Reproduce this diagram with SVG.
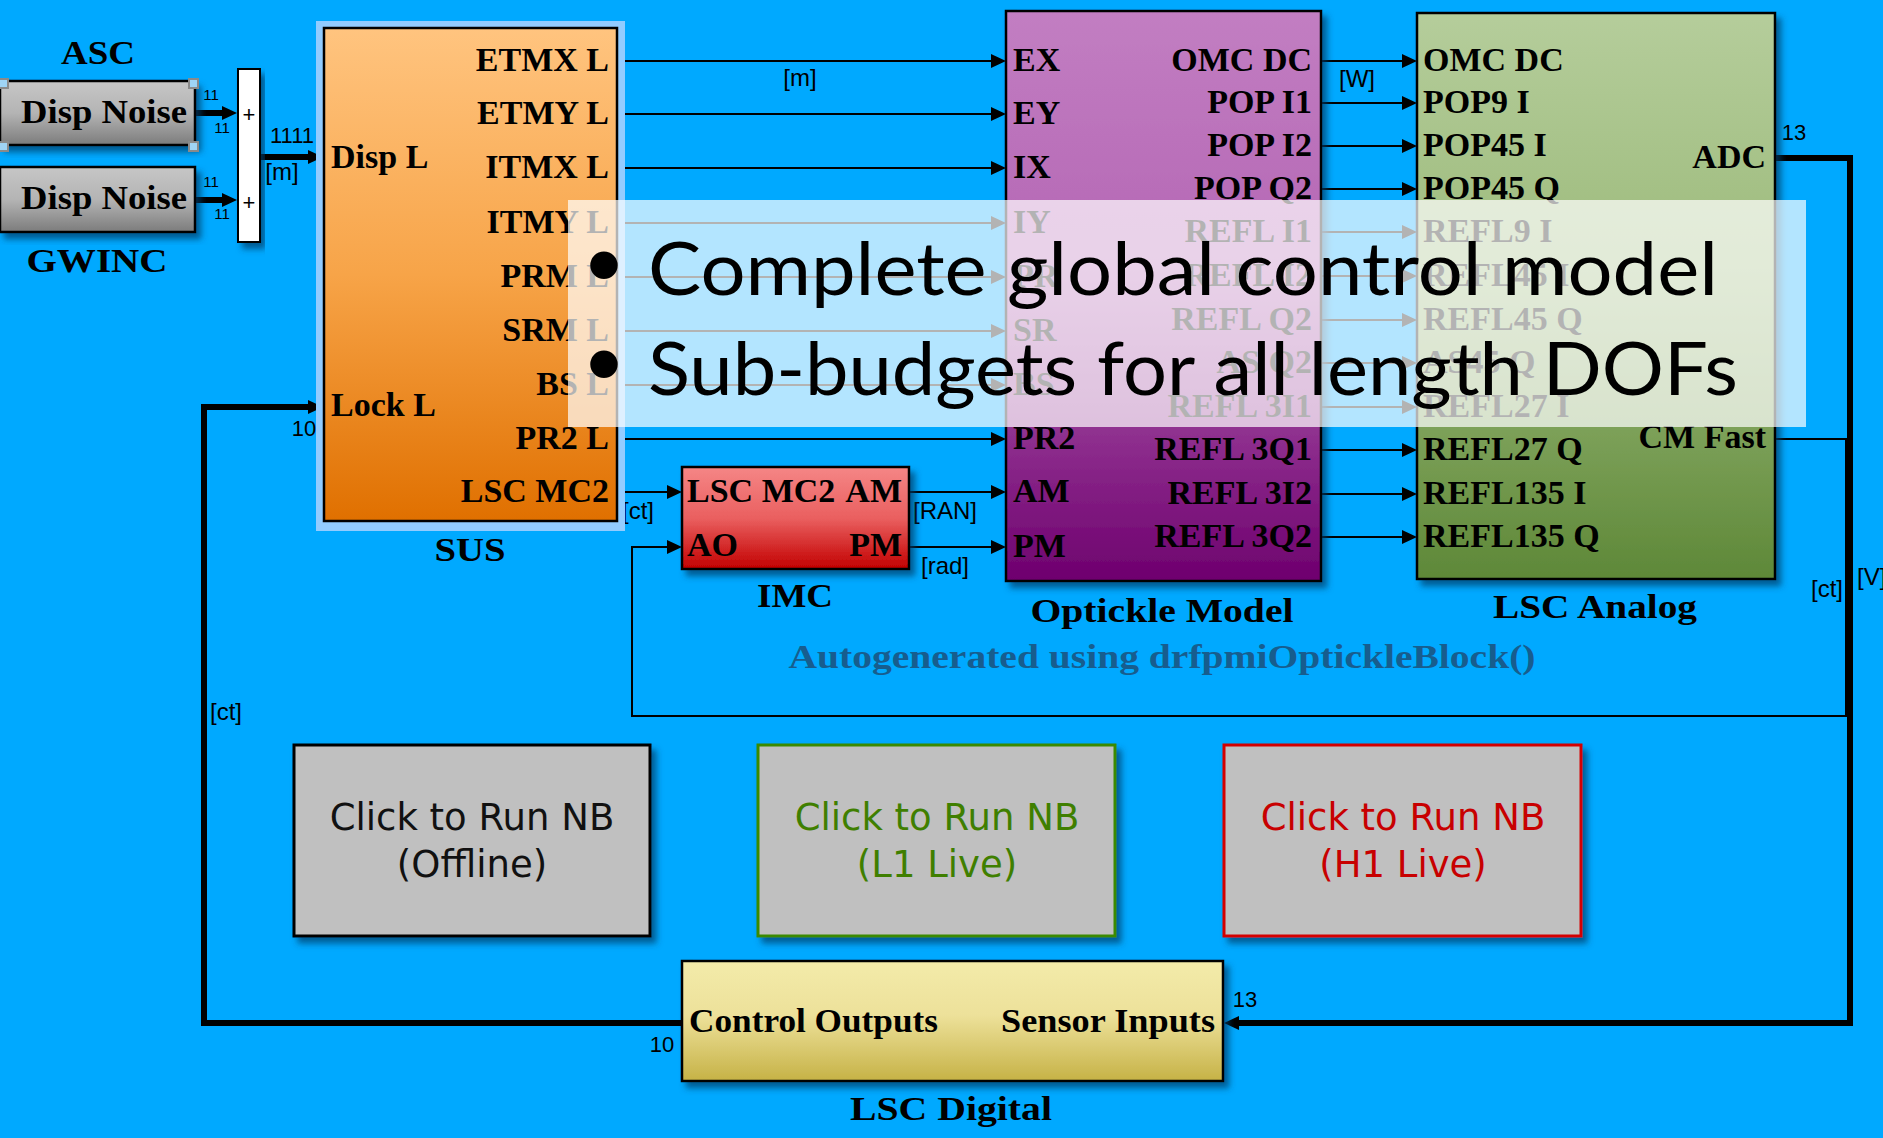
<svg xmlns="http://www.w3.org/2000/svg" width="1883" height="1138" viewBox="0 0 1883 1138">
<defs>
<linearGradient id="gSUS" x1="0" y1="0" x2="0" y2="1"><stop offset="0" stop-color="#FFC47F"/><stop offset="0.5" stop-color="#F7A448"/><stop offset="1" stop-color="#E07000"/></linearGradient>
<linearGradient id="gOpt" x1="0" y1="0" x2="0" y2="1"><stop offset="0" stop-color="#C27EC2"/><stop offset="0.45" stop-color="#B466B4"/><stop offset="1" stop-color="#6E006E"/></linearGradient>
<linearGradient id="gLSCA" x1="0" y1="0" x2="0" y2="1"><stop offset="0" stop-color="#B5CD9B"/><stop offset="0.45" stop-color="#9DBB7C"/><stop offset="1" stop-color="#5E8838"/></linearGradient>
<linearGradient id="gIMC" x1="0" y1="0" x2="0" y2="1"><stop offset="0" stop-color="#F58686"/><stop offset="0.5" stop-color="#EA6060"/><stop offset="1" stop-color="#C20000"/></linearGradient>
<linearGradient id="gLSCD" x1="0" y1="0" x2="0" y2="1"><stop offset="0" stop-color="#F3EBAA"/><stop offset="0.45" stop-color="#EDE19A"/><stop offset="1" stop-color="#C6B246"/></linearGradient>
<linearGradient id="gDisp" x1="0" y1="0" x2="0" y2="1"><stop offset="0" stop-color="#C6C6C6"/><stop offset="0.5" stop-color="#B4B4B4"/><stop offset="1" stop-color="#7C7C7C"/></linearGradient>
<filter id="sh" x="-10%" y="-10%" width="130%" height="130%"><feDropShadow dx="5" dy="6" stdDeviation="3" flood-color="#003a66" flood-opacity="0.7"/></filter>
<marker id="arr" viewBox="0 -7 15 14" refX="0" refY="0" markerWidth="15" markerHeight="14" markerUnits="userSpaceOnUse" orient="auto"><path d="M0,-7 L15,0 L0,7 z" fill="#000"/></marker>
<style>
.lbl{font-family:"Liberation Serif","Times New Roman",serif;font-weight:bold;font-size:34px;fill:#000}
.end{text-anchor:end}
.mid{text-anchor:middle}
.sm{font-family:"Liberation Sans",Arial,sans-serif;font-size:24px;fill:#000}
.num{font-family:"Liberation Sans",Arial,sans-serif;font-size:22px;fill:#000}
.tiny{font-family:"Liberation Sans",Arial,sans-serif;font-size:15px;fill:#000;text-anchor:middle}
.wire{stroke:#000;stroke-width:2;fill:none}
.bus{stroke:#000;stroke-width:6;fill:none}
.blk{stroke:#000;stroke-width:2.5}
.btn{font-family:"DejaVu Sans",Verdana,sans-serif;font-size:37px;text-anchor:middle}
.bul{font-family:Lato,"Open Sans",sans-serif;font-size:74px;fill:#000}
</style>
</defs>
<rect x="0" y="0" width="1883" height="1138" fill="#00A9FF"/>

<g id="connectors">
<path class="bus" d="M195,113 H222" marker-end="url(#arr)"/>
<path class="bus" d="M195,200 H222" marker-end="url(#arr)"/>
<path class="bus" d="M260,157 H308" marker-end="url(#arr)"/>
<path class="bus" d="M682,1023 H204 V407 H308" marker-end="url(#arr)"/>
<path class="wire" d="M1775,439 H1846 V716 H632 V547 H667" marker-end="url(#arr)"/>
<path class="bus" d="M1775,158 H1850 V1023 H1239" marker-end="url(#arr)"/>
<path class="wire" d="M617,61 H991" marker-end="url(#arr)"/>
<path class="wire" d="M617,114 H991" marker-end="url(#arr)"/>
<path class="wire" d="M617,168 H991" marker-end="url(#arr)"/>
<path class="wire" d="M617,223 H991" marker-end="url(#arr)"/>
<path class="wire" d="M617,277 H991" marker-end="url(#arr)"/>
<path class="wire" d="M617,331 H991" marker-end="url(#arr)"/>
<path class="wire" d="M617,385 H991" marker-end="url(#arr)"/>
<path class="wire" d="M617,439 H991" marker-end="url(#arr)"/>
<path class="wire" d="M617,492 H667" marker-end="url(#arr)"/>
<path class="wire" d="M909,492 H991" marker-end="url(#arr)"/>
<path class="wire" d="M909,547 H991" marker-end="url(#arr)"/>
<path class="wire" d="M1321,61 H1402" marker-end="url(#arr)"/>
<path class="wire" d="M1321,103 H1402" marker-end="url(#arr)"/>
<path class="wire" d="M1321,146 H1402" marker-end="url(#arr)"/>
<path class="wire" d="M1321,189 H1402" marker-end="url(#arr)"/>
<path class="wire" d="M1321,232 H1402" marker-end="url(#arr)"/>
<path class="wire" d="M1321,276 H1402" marker-end="url(#arr)"/>
<path class="wire" d="M1321,320 H1402" marker-end="url(#arr)"/>
<path class="wire" d="M1321,363 H1402" marker-end="url(#arr)"/>
<path class="wire" d="M1321,407 H1402" marker-end="url(#arr)"/>
<path class="wire" d="M1321,450 H1402" marker-end="url(#arr)"/>
<path class="wire" d="M1321,494 H1402" marker-end="url(#arr)"/>
<path class="wire" d="M1321,537 H1402" marker-end="url(#arr)"/>
<text class="tiny" x="211" y="100">11</text>
<text class="tiny" x="222" y="133">11</text>
<text class="tiny" x="211" y="187">11</text>
<text class="tiny" x="222" y="219">11</text>
<text class="num" x="292" y="143" text-anchor="middle" font-size="21">1111</text>
<text class="sm mid" x="282" y="180">[m]</text>
<text class="sm mid" x="800" y="86">[m]</text>
<text class="sm mid" x="1357" y="87">[W]</text>
<text class="sm mid" x="638" y="519">[ct]</text>
<text class="sm mid" x="945" y="519">[RAN]</text>
<text class="sm mid" x="945" y="574">[rad]</text>
<text class="sm mid" x="226" y="720">[ct]</text>
<text class="sm mid" x="1827" y="597">[ct]</text>
<text class="sm" x="1857" y="585">[V]</text>
<text class="num mid" x="304" y="436">10</text>
<text class="num mid" x="1794" y="140">13</text>
<text class="num mid" x="1245" y="1007">13</text>
<text class="num mid" x="662" y="1052">10</text>
</g>

<g id="asc-noise">
<rect x="0" y="81" width="195" height="64" fill="url(#gDisp)" class="blk" filter="url(#sh)"/>
<text class="lbl mid" x="104" y="123" font-size="35" textLength="166" lengthAdjust="spacingAndGlyphs">Disp Noise</text>
<text class="lbl mid" x="98" y="64" textLength="74" lengthAdjust="spacingAndGlyphs">ASC</text>
<g fill="#9FD4F5" stroke="#8A8A8A" stroke-width="2">
<rect x="-1" y="79" width="9" height="9"/><rect x="189" y="79" width="9" height="9"/>
<rect x="-1" y="142" width="9" height="9"/><rect x="189" y="142" width="9" height="9"/>
</g>
</g>

<g id="gwinc-noise">
<rect x="0" y="167" width="195" height="65" fill="url(#gDisp)" class="blk" filter="url(#sh)"/>
<text class="lbl mid" x="104" y="209" font-size="35" textLength="166" lengthAdjust="spacingAndGlyphs">Disp Noise</text>
<text class="lbl mid" x="97" y="272" textLength="141" lengthAdjust="spacingAndGlyphs">GWINC</text>
</g>

<g id="sum">
<rect x="238" y="69" width="22" height="173" fill="#FFFFFF" stroke="#000" stroke-width="2" filter="url(#sh)"/>
<text class="num mid" x="249" y="122">+</text>
<text class="num mid" x="249" y="210">+</text>
</g>

<g id="sus">
<rect x="316" y="21" width="309" height="510" fill="#92CCFF"/>
<rect x="324" y="28" width="293" height="493" fill="url(#gSUS)" class="blk"/>
<text class="lbl" x="331" y="168">Disp L</text>
<text class="lbl" x="331" y="416">Lock L</text>
<text class="lbl end" x="609" y="71">ETMX L</text>
<text class="lbl end" x="609" y="124">ETMY L</text>
<text class="lbl end" x="609" y="178">ITMX L</text>
<text class="lbl end" x="609" y="233">ITMY L</text>
<text class="lbl end" x="609" y="287">PRM L</text>
<text class="lbl end" x="609" y="341">SRM L</text>
<text class="lbl end" x="609" y="395">BS L</text>
<text class="lbl end" x="609" y="449">PR2 L</text>
<text class="lbl end" x="609" y="502">LSC MC2</text>
<text class="lbl mid" x="470" y="561" textLength="71" lengthAdjust="spacingAndGlyphs">SUS</text>
</g>

<g id="imc">
<rect x="682" y="467" width="227" height="102" fill="url(#gIMC)" class="blk" filter="url(#sh)"/>
<text class="lbl" x="687" y="502">LSC MC2</text>
<text class="lbl end" x="902" y="502">AM</text>
<text class="lbl" x="687" y="556">AO</text>
<text class="lbl end" x="902" y="556">PM</text>
<text class="lbl mid" x="795" y="607" textLength="76" lengthAdjust="spacingAndGlyphs">IMC</text>
</g>

<g id="optickle">
<rect x="1006" y="11" width="315" height="570" fill="url(#gOpt)" class="blk" filter="url(#sh)"/>
<text class="lbl" x="1013" y="71">EX</text>
<text class="lbl" x="1013" y="124">EY</text>
<text class="lbl" x="1013" y="178">IX</text>
<text class="lbl" x="1013" y="233">IY</text>
<text class="lbl" x="1013" y="287">PR</text>
<text class="lbl" x="1013" y="341">SR</text>
<text class="lbl" x="1013" y="395">BS</text>
<text class="lbl" x="1013" y="449">PR2</text>
<text class="lbl" x="1013" y="502">AM</text>
<text class="lbl" x="1013" y="557">PM</text>
<text class="lbl end" x="1312" y="71">OMC DC</text>
<text class="lbl end" x="1312" y="113">POP I1</text>
<text class="lbl end" x="1312" y="156">POP I2</text>
<text class="lbl end" x="1312" y="199">POP Q2</text>
<text class="lbl end" x="1312" y="242">REFL I1</text>
<text class="lbl end" x="1312" y="286">REFL I2</text>
<text class="lbl end" x="1312" y="330">REFL Q2</text>
<text class="lbl end" x="1312" y="373">AS Q2</text>
<text class="lbl end" x="1312" y="417">REFL 3I1</text>
<text class="lbl end" x="1312" y="460">REFL 3Q1</text>
<text class="lbl end" x="1312" y="504">REFL 3I2</text>
<text class="lbl end" x="1312" y="547">REFL 3Q2</text>
<text class="lbl mid" x="1162" y="622" textLength="263" lengthAdjust="spacingAndGlyphs">Optickle Model</text>
<text class="lbl mid" x="1162" y="668" style="fill:#175D8E" textLength="747" lengthAdjust="spacingAndGlyphs">Autogenerated using drfpmiOptickleBlock()</text>
</g>

<g id="lsc-analog">
<rect x="1417" y="13" width="358" height="566" fill="url(#gLSCA)" class="blk" filter="url(#sh)"/>
<text class="lbl" x="1423" y="71">OMC DC</text>
<text class="lbl" x="1423" y="113">POP9 I</text>
<text class="lbl" x="1423" y="156">POP45 I</text>
<text class="lbl" x="1423" y="199">POP45 Q</text>
<text class="lbl" x="1423" y="242">REFL9 I</text>
<text class="lbl" x="1423" y="286">REFL45 I</text>
<text class="lbl" x="1423" y="330">REFL45 Q</text>
<text class="lbl" x="1423" y="373">AS45 Q</text>
<text class="lbl" x="1423" y="417">REFL27 I</text>
<text class="lbl" x="1423" y="460">REFL27 Q</text>
<text class="lbl" x="1423" y="504">REFL135 I</text>
<text class="lbl" x="1423" y="547">REFL135 Q</text>
<text class="lbl end" x="1766" y="168">ADC</text>
<text class="lbl end" x="1766" y="448">CM Fast</text>
<text class="lbl mid" x="1595" y="618" textLength="204" lengthAdjust="spacingAndGlyphs">LSC Analog</text>
</g>

<g id="lsc-digital">
<rect x="682" y="961" width="541" height="120" fill="url(#gLSCD)" class="blk" filter="url(#sh)"/>
<text class="lbl" x="689" y="1032" font-size="31" textLength="249" lengthAdjust="spacingAndGlyphs">Control Outputs</text>
<text class="lbl end" x="1215" y="1032" font-size="31" textLength="214" lengthAdjust="spacingAndGlyphs">Sensor Inputs</text>
<text class="lbl mid" x="951" y="1120" textLength="202" lengthAdjust="spacingAndGlyphs">LSC Digital</text>
</g>

<g id="btn-offline">
<rect x="294" y="745" width="356" height="191" fill="#C0C0C0" stroke="#000" stroke-width="3" filter="url(#sh)"/>
<text class="btn" x="472" y="830" fill="#111">Click to Run NB</text>
<text class="btn" x="472" y="877" fill="#111">(Offline)</text>
</g>
<g id="btn-l1">
<rect x="758" y="745" width="357" height="191" fill="#C0C0C0" stroke="#3A8A00" stroke-width="3" filter="url(#sh)"/>
<text class="btn" x="937" y="830" fill="#3F7F00">Click to Run NB</text>
<text class="btn" x="937" y="877" fill="#3F7F00">(L1 Live)</text>
</g>
<g id="btn-h1">
<rect x="1224" y="745" width="357" height="191" fill="#C0C0C0" stroke="#D40000" stroke-width="3" filter="url(#sh)"/>
<text class="btn" x="1403" y="830" fill="#C80000">Click to Run NB</text>
<text class="btn" x="1403" y="877" fill="#C80000">(H1 Live)</text>
</g>

<g id="overlay">
<rect x="568" y="200" width="1238" height="227" fill="#FFFFFF" fill-opacity="0.7"/>
<text class="bul" x="604" y="287" text-anchor="middle" font-size="84">•</text>
<text class="bul" x="648" y="295" textLength="1070" lengthAdjust="spacingAndGlyphs">Complete global control model</text>
<text class="bul" x="604" y="386" text-anchor="middle" font-size="84">•</text>
<text class="bul" x="648" y="395" textLength="1090" lengthAdjust="spacingAndGlyphs">Sub-budgets for all length DOFs</text>
</g>
</svg>
